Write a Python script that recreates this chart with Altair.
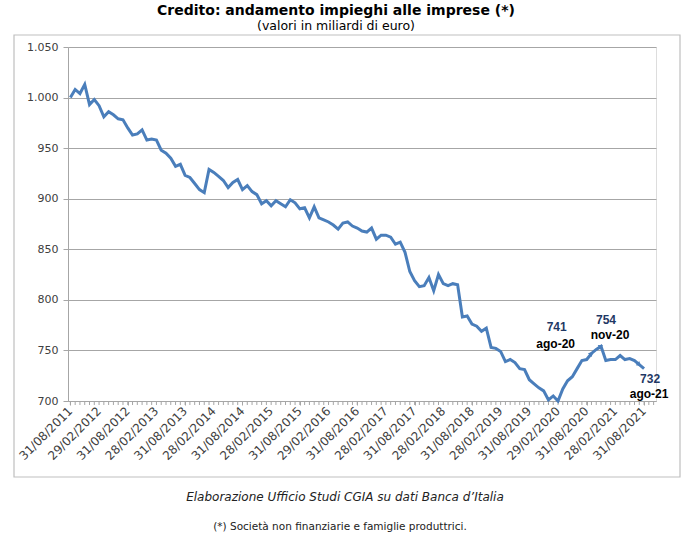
import altair as alt
import pandas as pd

# Monthly values (billions of euro), Aug 2011 -> Aug 2021
values = [1000, 1008, 1004, 1013, 993, 998, 992, 981, 986, 983, 979, 978,
          970, 963, 964, 968, 958, 959, 958, 948, 945, 940, 932, 934,
          923, 921, 915, 909, 906, 929, 926, 922, 918, 911, 916, 919,
          909, 913, 907, 904, 895, 898, 893, 898, 895, 892,
          899, 896, 890, 891, 881, 892, 881, 879, 877, 874,
          870, 876, 877, 873, 871, 868, 867, 871, 860, 864,
          864, 862, 855, 857, 847, 828, 819, 813, 814, 822,
          809, 825, 816, 814, 816, 815, 783, 784, 776, 774,
          769, 772, 753, 752, 749, 739, 741, 738, 732, 731,
          721, 717, 713, 710, 701, 705, 700, 712, 720, 724,
          732, 740, 741, 747, 751, 754, 740, 741, 741, 745,
          741, 742, 740, 736, 732]

tick_labels = ["31/08/2011", "29/02/2012", "31/08/2012", "28/02/2013", "31/08/2013",
               "28/02/2014", "31/08/2014", "28/02/2015", "31/08/2015", "29/02/2016",
               "31/08/2016", "28/02/2017", "31/08/2017", "28/02/2018", "31/08/2018",
               "28/02/2019", "31/08/2019", "29/02/2020", "31/08/2020", "28/02/2021",
               "31/08/2021"]

ann_index = [108, 111, 120]
ann_months = ["ago-20", "nov-20", "ago-21"]
arrow_index = [109, 111, 119]

n_cat = 123
W, H = 588, 354

df = pd.DataFrame({"i": list(range(len(values))), "v": values})
ann_df = pd.DataFrame({"i": ann_index, "v": [values[j] for j in ann_index],
                       "lab": [str(values[j]) for j in ann_index], "m": ann_months})
arr_df = pd.DataFrame({"i": arrow_index, "v": [values[j] for j in arrow_index]})
ticks_df = pd.DataFrame({"i": list(range(n_cat))})
lab_df = pd.DataFrame({"i": list(range(0, 6 * len(tick_labels), 6)), "lab": tick_labels})

xscale = alt.Scale(domain=[-0.5, n_cat - 0.5], nice=False, zero=False)
xenc = alt.X("i:Q", scale=xscale,
             axis=alt.Axis(values=list(range(0, 121, 6)), labels=False,
                           tickSize=4, tickColor="#A6A6A6",
                           domainColor="#A6A6A6", grid=False, title=None))
yenc = alt.Y("v:Q",
             scale=alt.Scale(domain=[700, 1050], nice=False, zero=False),
             axis=alt.Axis(values=list(range(700, 1051, 50)),
                           labelExpr="replace(format(datum.value, ','), ',', '.')",
                           grid=True, gridColor="#A6A6A6", domainColor="#A6A6A6",
                           tickSize=5, tickColor="#A6A6A6", labelFont="DejaVu Sans",
                           labelFontSize=11, labelColor="#404040", labelPadding=5,
                           title=None))

minor = alt.Chart(ticks_df).mark_rule(color="#A6A6A6", strokeWidth=1).encode(
    x=alt.X("i:Q", scale=xscale), y=alt.value(H), y2=alt.value(H + 4))

xlabels = alt.Chart(lab_df).mark_text(angle=315, align="right", baseline="middle",
                                      font="DejaVu Sans", fontSize=12,
                                      color="#404040").encode(
    x=alt.X("i:Q", scale=xscale), y=alt.value(H + 8), text="lab:N")

line = alt.Chart(df).mark_line(color="#4A7EBB", strokeWidth=3).encode(x=xenc, y=yenc)

arrows = alt.Chart(arr_df).mark_point(shape="triangle-up", filled=True, size=28,
                                      color="#4A7EBB", opacity=1).encode(
    x="i:Q", y="v:Q",
    angle=alt.Angle("i:Q", scale=alt.Scale(domain=[109, 119], range=[45, 130])))

offsets = {108: ((-30, -33), (-31, -16)),
           111: ((5, -26), (9, -11)),
           120: ((6, 10), (5, 25))}

ann_layers = []
for idx in ann_index:
    (vdx, vdy), (mdx, mdy) = offsets[idx]
    base = alt.Chart(ann_df).transform_filter(alt.datum.i == idx)
    ann_layers.append(base.mark_text(font="Liberation Sans", fontWeight="bold", fontSize=12,
                                     color="#1F3864", dx=vdx, dy=vdy).encode(
        x="i:Q", y="v:Q", text="lab:N"))
    ann_layers.append(base.mark_text(font="Liberation Sans", fontWeight="bold", fontSize=12,
                                     color="#000000", dx=mdx, dy=mdy).encode(
        x="i:Q", y="v:Q", text="m:N"))

one = pd.DataFrame({"k": [0]})
frame = alt.Chart(one).mark_rect(fillOpacity=0, stroke="#BFBFBF", strokeWidth=1.2).encode(
    x=alt.value(-54), x2=alt.value(612), y=alt.value(-12), y2=alt.value(430))

src = alt.Chart(one).mark_text(font="DejaVu Sans", fontStyle="italic", fontSize=12,
                               color="#222222", align="center").encode(
    x=alt.value(277), y=alt.value(450),
    text=alt.value("Elaborazione Ufficio Studi CGIA su dati Banca d\u2019Italia"))
note = alt.Chart(one).mark_text(font="DejaVu Sans", fontSize=10.5, color="#222222",
                                align="center").encode(
    x=alt.value(272), y=alt.value(480),
    text=alt.value("(*) Societ\u00e0 non finanziarie e famiglie produttrici."))

chart = alt.layer(frame, minor, line, arrows, xlabels, *ann_layers, src, note).properties(
    width=W, height=H,
    autosize=alt.AutoSizeParams(type="none"),
    padding={"left": 68, "top": 47, "right": 40, "bottom": 142},
    title=alt.Title(text="Credito: andamento impieghi alle imprese (*)",
                    subtitle="(valori in miliardi di euro)",
                    anchor="middle", frame="group", dx=-26, offset=2,
                    font="DejaVu Sans", fontSize=14, fontWeight="bold", color="#000000",
                    subtitleFont="DejaVu Sans", subtitleFontSize=12.5,
                    subtitleColor="#000000", subtitlePadding=2),
).configure_view(stroke=None).configure(background="white")

chart.save("out.html", embed_options={"renderer": "svg", "actions": False})
